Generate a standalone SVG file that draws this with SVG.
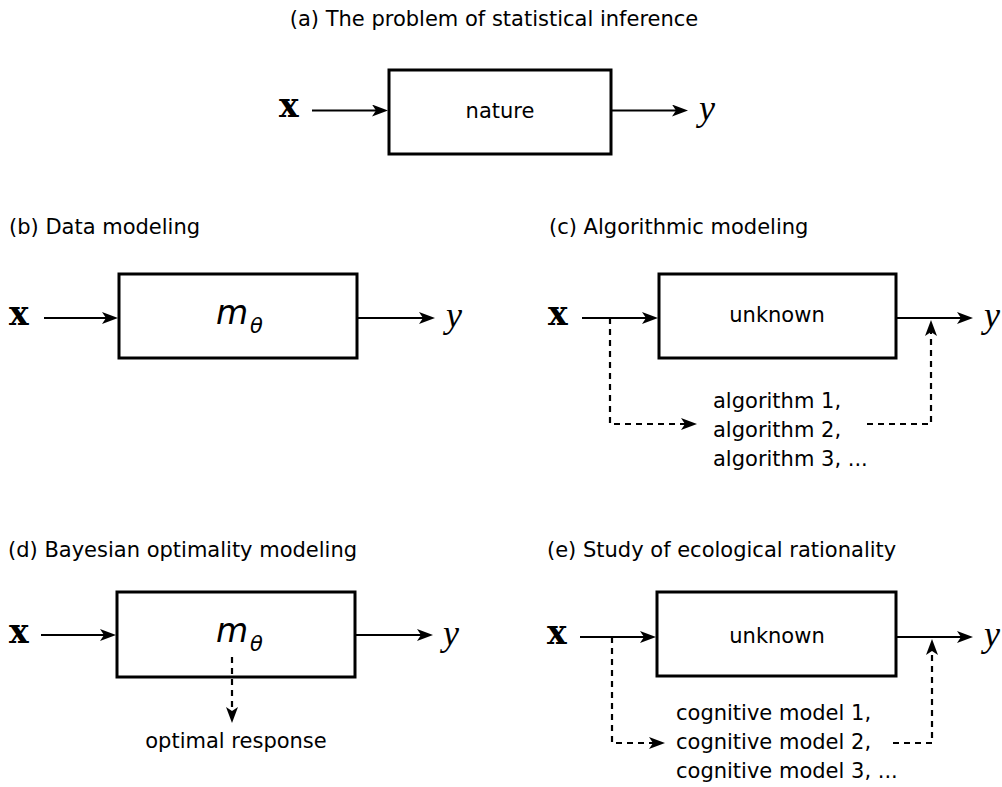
<svg xmlns="http://www.w3.org/2000/svg" width="1002" height="787" viewBox="0 0 1002 787">
<style>
  .t { font-family: "DejaVu Sans", sans-serif; font-size: 21px; fill: #000; }
  .box { fill: #fff; stroke: #000; stroke-width: 3; }
  .ln { fill: none; stroke: #000; stroke-width: 2.2; marker-end: url(#arr); }
  .dasha { fill: none; stroke: #000; stroke-width: 2.2; stroke-dasharray: 6 5; marker-end: url(#arr); }
  .vx { font-family: "DejaVu Serif", serif; font-weight: bold; font-size: 33px; }
  .vy { font-family: "Liberation Serif", serif; font-style: italic; font-size: 36px; }
  .m { font-family: "DejaVu Sans", sans-serif; font-style: italic; font-size: 33px; }
  .th { font-family: "DejaVu Sans", sans-serif; font-style: italic; font-size: 21px; }
</style>
<defs>
  <marker id="arr" markerUnits="userSpaceOnUse" markerWidth="18" markerHeight="14" refX="12" refY="6" orient="auto">
    <path d="M0,0 L16,6 L0,12 L4,6 z" fill="#000"/>
  </marker>
</defs>
<rect width="1002" height="787" fill="#fff"/>

<!-- titles -->
<text class="t" x="494" y="26" text-anchor="middle">(a) The problem of statistical inference</text>
<text class="t" x="9" y="234">(b) Data modeling</text>
<text class="t" x="549" y="234">(c) Algorithmic modeling</text>
<text class="t" x="8" y="557">(d) Bayesian optimality modeling</text>
<text class="t" x="547" y="557">(e) Study of ecological rationality</text>

<!-- (a) -->
<g id="a-nature">
  <rect class="box" x="389" y="70" width="222" height="84"/>
  <text class="t" x="500" y="118" text-anchor="middle">nature</text>
</g>
<g id="a-x"><text class="vx" x="279" y="117">x</text></g>
<g id="a-y"><text class="vy" x="699" y="120">y</text></g>

<!-- (b) -->
<g id="b-model">
  <rect class="box" x="119" y="274" width="238" height="84"/>
  <text class="m" x="216" y="324">m</text><text class="th" x="250" y="333">θ</text>
</g>
<g id="b-x"><text class="vx" x="9" y="325">x</text></g>
<g id="b-y"><text class="vy" x="446" y="327">y</text></g>

<!-- (c) -->
<g id="c-unknown">
  <rect class="box" x="659" y="274" width="237" height="84"/>
  <text class="t" x="777" y="322" text-anchor="middle">unknown</text>
</g>
<g id="c-x"><text class="vx" x="548" y="325">x</text></g>
<g id="c-y"><text class="vy" x="984" y="327">y</text></g>
<g id="c-algos">
  <text class="t" x="713" y="408">algorithm 1,</text>
  <text class="t" x="713" y="437">algorithm 2,</text>
  <text class="t" x="713" y="466">algorithm 3, ...</text>
</g>

<!-- (d) -->
<g id="d-model">
  <rect class="box" x="117" y="592" width="238" height="85"/>
  <text class="m" x="216" y="642">m</text><text class="th" x="250" y="651">θ</text>
</g>
<g id="d-x"><text class="vx" x="9" y="643">x</text></g>
<g id="d-y"><text class="vy" x="443" y="645">y</text></g>
<g id="d-response"><text class="t" x="236" y="748" text-anchor="middle">optimal response</text></g>

<!-- (e) -->
<g id="e-unknown">
  <rect class="box" x="657" y="592" width="239" height="84"/>
  <text class="t" x="777" y="643" text-anchor="middle">unknown</text>
</g>
<g id="e-x"><text class="vx" x="547" y="644">x</text></g>
<g id="e-y"><text class="vy" x="984" y="646">y</text></g>
<g id="e-models">
  <text class="t" x="676" y="720">cognitive model 1,</text>
  <text class="t" x="676" y="749">cognitive model 2,</text>
  <text class="t" x="676" y="778">cognitive model 3, ...</text>
</g>

<!-- connectors -->
<g id="connectors">
  <path class="ln" d="M312,110.5 H384"/>
  <path class="ln" d="M612,110.5 H684"/>

  <path class="ln" d="M44,318 H114"/>
  <path class="ln" d="M358,318 H431"/>

  <path class="ln" d="M582,318 H654"/>
  <path class="ln" d="M897,318 H969"/>
  <path class="dasha" d="M610,318 V424 H693"/>
  <path class="dasha" d="M867,424 H931 V324"/>

  <path class="ln" d="M41,635 H112"/>
  <path class="ln" d="M356,635 H429"/>
  <path class="dasha" d="M232,657 V719"/>

  <path class="ln" d="M580,637 H652"/>
  <path class="ln" d="M897,637 H969"/>
  <path class="dasha" d="M612,637 V743 H661"/>
  <path class="dasha" d="M893,743 H932 V643"/>
</g>
</svg>
